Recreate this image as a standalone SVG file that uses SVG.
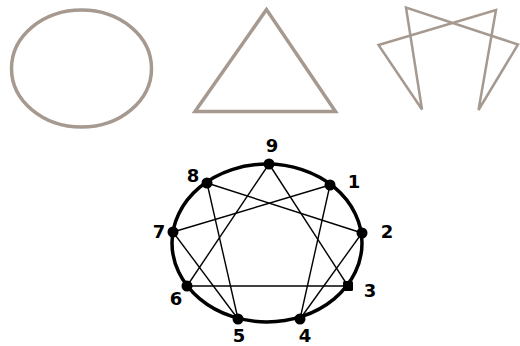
<svg xmlns="http://www.w3.org/2000/svg" width="520" height="346" viewBox="0 0 520 346">
<style>
.shape{fill:none;stroke:#a59990;stroke-width:3.5;stroke-linejoin:miter}
.thin{fill:none;stroke:#a59990;stroke-width:2.5;stroke-linejoin:miter}
.line{stroke:#000;stroke-width:1.4;fill:none}
.rim{fill:none;stroke:#000;stroke-width:3.5}
.dot{fill:#000}
.lbl{font-family:"DejaVu Sans","Liberation Sans",sans-serif;font-weight:bold;font-size:18px;fill:#000;text-anchor:middle}
</style>
<g id="circle-shape"><ellipse class="shape" cx="81.5" cy="68.5" rx="70" ry="58.5"/></g>
<g id="triangle-shape"><polygon class="shape" points="266.5,9.5 195,111.5 335.5,111.5"/></g>
<g id="hexad-shape"><polygon class="thin" points="406,7.5 422,109.5 378.5,45 496,10 478.5,110 518,44.5"/></g>
<g id="enneagram-rim"><ellipse class="rim" cx="267" cy="243" rx="95" ry="79"/></g>
<g id="connectors">
<line class="line" x1="269" y1="164" x2="348" y2="286"/>
<line class="line" x1="348" y1="286" x2="187" y2="286"/>
<line class="line" x1="187" y1="286" x2="269" y2="164"/>
<line class="line" x1="330" y1="185" x2="300" y2="319"/>
<line class="line" x1="300" y1="319" x2="362" y2="233"/>
<line class="line" x1="362" y1="233" x2="207" y2="183"/>
<line class="line" x1="207" y1="183" x2="238" y2="319"/>
<line class="line" x1="238" y1="319" x2="173" y2="232"/>
<line class="line" x1="173" y1="232" x2="330" y2="185"/>
</g>
<g id="n9"><circle class="dot" cx="269" cy="164" r="5.5"/><text class="lbl" x="272" y="152">9</text></g>
<g id="n1"><circle class="dot" cx="330" cy="185" r="5.5"/><text class="lbl" x="354" y="188">1</text></g>
<g id="n2"><circle class="dot" cx="362" cy="233" r="5.5"/><text class="lbl" x="387" y="238">2</text></g>
<g id="n3"><rect class="dot" x="343" y="281" width="10" height="10" rx="1.5"/><text class="lbl" x="370" y="297">3</text></g>
<g id="n4"><circle class="dot" cx="300" cy="319" r="5.5"/><text class="lbl" x="305" y="342">4</text></g>
<g id="n5"><circle class="dot" cx="238" cy="319" r="5.5"/><text class="lbl" x="239" y="342">5</text></g>
<g id="n6"><circle class="dot" cx="187" cy="286" r="5.5"/><text class="lbl" x="176" y="305">6</text></g>
<g id="n7"><circle class="dot" cx="173" cy="232" r="5.5"/><text class="lbl" x="159" y="238">7</text></g>
<g id="n8"><circle class="dot" cx="207" cy="183" r="5.5"/><text class="lbl" x="193" y="182">8</text></g>
</svg>
